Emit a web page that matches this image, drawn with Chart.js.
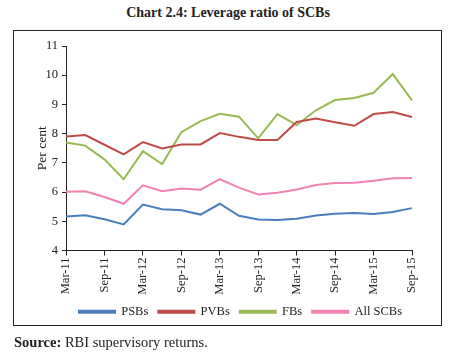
<!DOCTYPE html>
<html>
<head>
<meta charset="utf-8">
<script src="https://cdn.jsdelivr.net/npm/chart.js@4"></script>
<style>
  body { margin: 0; background: #fff; }
  #wrap { position: relative; width: 456px; height: 358px; font-family: "Liberation Serif", serif; }
  #title { position: absolute; left: 0; top: 5px; width: 456px; text-align: center; font-weight: bold; font-size: 14px; color: #222; }
  #box { position: absolute; left: 13px; top: 30px; width: 427px; height: 294px; border: 1px solid #222; }
  #src { position: absolute; left: 14px; top: 334px; font-size: 14.5px; color: #222; }
  #chart1 { position: absolute; left: 0; top: 0; }
</style>
</head>
<body>
<div id="wrap">
  <div id="title">Chart 2.4: Leverage ratio of SCBs</div>
  <div id="box"></div>
  <canvas id="chart1" width="456" height="358"></canvas>
  <div id="src"><b>Source:</b> RBI supervisory returns.</div>
</div>
<script>
/* quarters, Mar-11 .. Sep-15 */
const quarters = ['Mar-11', 'Jun-11', 'Sep-11', 'Dec-11', 'Mar-12', 'Jun-12', 'Sep-12', 'Dec-12',
    'Mar-13', 'Jun-13', 'Sep-13', 'Dec-13', 'Mar-14', 'Jun-14', 'Sep-14', 'Dec-14',
    'Mar-15', 'Jun-15', 'Sep-15'];

const psbs = [5.16, 5.21, 5.07, 4.89, 5.57, 5.41, 5.38, 5.23, 5.60, 5.19, 5.06, 5.04, 5.09, 5.20, 5.26, 5.28, 5.25, 5.32, 5.45];
const pvbs = [7.90, 7.95, 7.62, 7.29, 7.71, 7.49, 7.63, 7.63, 8.02, 7.89, 7.78, 7.78, 8.40, 8.52, 8.39, 8.27, 8.67, 8.74, 8.57];
const fbs = [7.70, 7.59, 7.12, 6.44, 7.40, 6.96, 8.05, 8.43, 8.68, 8.58, 7.84, 8.67, 8.29, 8.80, 9.15, 9.22, 9.40, 10.04, 9.14];
const allScbs = [6.01, 6.03, 5.83, 5.60, 6.23, 6.03, 6.12, 6.08, 6.44, 6.15, 5.92, 5.98, 6.09, 6.24, 6.31, 6.32, 6.39, 6.47, 6.48];

const yTicks = [4, 5, 6, 7, 8, 9, 10, 11];

const ctx = document.getElementById('chart1');
const font = { family: '"Liberation Serif", serif', size: 12.5 };

function series(label, data, color) {
    return {
        label: label,
        data: data,
        borderColor: color,
        backgroundColor: color,
        borderWidth: 2,
        pointRadius: 0,
        tension: 0
    };
}

new Chart(ctx, {
    type: 'line',
    data: {
        labels: quarters,
        datasets: [
            series('PSBs', psbs, '#4a7ebb'),
            series('PVBs', pvbs, '#be4b48'),
            series('FBs', fbs, '#98b954'),
            series('All SCBs', allScbs, '#f280b0')
        ]
    },
    options: {
        responsive: false,
        animation: false,
        layout: { padding: { left: 32, right: 44, top: 46, bottom: 30 } },
        plugins: {
            tooltip: { enabled: false },
            legend: {
                position: 'bottom',
                align: 'end',
                labels: {
                    boxWidth: 36,
                    boxHeight: 2,
                    padding: 10,
                    color: '#222',
                    font: font
                }
            }
        },
        scales: {
            x: {
                offset: false,
                afterFit: (scale) => { scale.height = 45; },
                border: { color: '#222', width: 1 },
                grid: { display: true, drawOnChartArea: false, drawTicks: true, tickLength: 5, color: '#222' },
                ticks: {
                    autoSkip: false,
                    maxRotation: 90,
                    minRotation: 90,
                    padding: 2,
                    color: '#222',
                    font: font,
                    callback: function (val, i) { return i % 2 === 0 ? quarters[i] : null; }
                }
            },
            y: {
                min: 4,
                max: 11,
                afterFit: (scale) => { scale.width = 34; },
                afterBuildTicks: (scale) => { scale.ticks = yTicks.map(v => ({ value: v })); },
                border: { color: '#222', width: 1 },
                grid: { display: true, drawOnChartArea: false, drawTicks: true, tickLength: 4, color: '#222' },
                title: { display: true, text: 'Per cent', color: '#222', font: { family: font.family, size: 13.5 }, padding: 2 },
                ticks: { color: '#222', font: font, padding: 4 }
            }
        }
    }
});
</script>
</body>
</html>
